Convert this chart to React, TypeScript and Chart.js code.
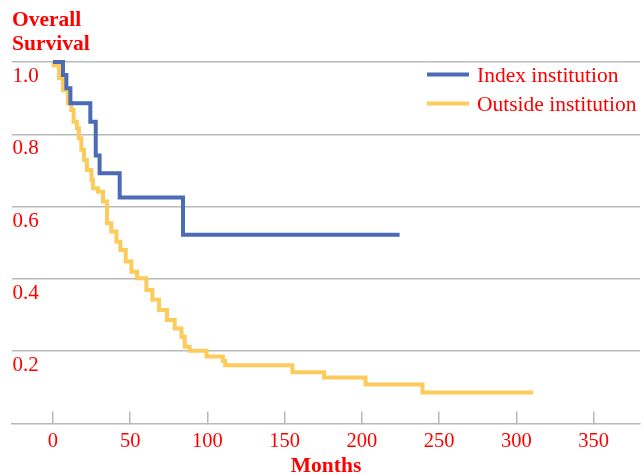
import React, { useEffect, useRef } from 'react';
import { Chart, registerables } from 'chart.js';

Chart.register(...registerables);

const SERIES_LABELS = ['Index institution', 'Outside institution'];
const SERIES_COLORS = ['#4b6bb7', '#fccb5b'];

const INDEX_MONTHS = [0, 6.5, 8.7, 11.3, 24.2, 27.7, 30.2, 43.2, 84.2, 224.4];
const INDEX_SURVIVAL = [1.0, 0.964, 0.927, 0.886, 0.835, 0.741, 0.692, 0.625, 0.522, 0.522];

const OUTSIDE_MONTHS = [
  0, 0.5, 3.9, 6.5, 9.7, 11.9, 13.4, 15.5, 16.8, 18.4, 20.1, 22.0, 24.9, 25.9, 29.1,
  32.4, 35.0, 37.8, 41.1, 43.6, 47.1, 50.8, 54.4, 60.5, 64.4, 68.7, 73.8, 78.8, 83.2,
  85.3, 88.5, 99.4, 110.0, 111.5, 155.0, 175.5, 202.3, 239.2, 310.9,
];
const OUTSIDE_SURVIVAL = [
  1.0, 0.99, 0.955, 0.922, 0.886, 0.867, 0.835, 0.817, 0.789, 0.757, 0.729, 0.701, 0.674,
  0.651, 0.641, 0.614, 0.554, 0.531, 0.503, 0.48, 0.448, 0.42, 0.402, 0.369, 0.342, 0.314,
  0.286, 0.263, 0.24, 0.212, 0.201, 0.185, 0.173, 0.161, 0.142, 0.127, 0.108, 0.086, 0.086,
];

const X_TICKS = [0, 50, 100, 150, 200, 250, 300, 350];
const X_TICK_LABELS = ['0', '50', '100', '150', '200', '250', '300', '350'];
const Y_TICKS = [0.2, 0.4, 0.6, 0.8, 1.0];
const Y_TICK_LABELS = ['0.2', '0.4', '0.6', '0.8', '1.0'];
const Y_TITLE = ['Overall', 'Survival'];
const X_TITLE = 'Months';

const RED = '#ff0000';
const GRID = '#b9b9b9';
const FAMILY = '"Liberation Serif", "Times New Roman", serif';

const legendPlugin = {
  id: 'insideLegend',
  afterDraw(chart: any) {
    const { ctx, chartArea } = chart;
    ctx.save();
    chart.data.datasets.forEach((ds: any, i: number) => {
      const y = chartArea.top + 12.5 + i * 29;
      const x0 = chartArea.right - 213;
      ctx.strokeStyle = ds.borderColor;
      ctx.lineWidth = 4;
      ctx.lineCap = 'butt';
      ctx.beginPath();
      ctx.moveTo(x0, y);
      ctx.lineTo(x0 + 42, y);
      ctx.stroke();
      ctx.fillStyle = RED;
      ctx.font = `21.5px ${FAMILY}`;
      ctx.textAlign = 'left';
      ctx.textBaseline = 'alphabetic';
      ctx.fillText(ds.label, x0 + 50, y + 8);
    });
    ctx.restore();
  },
};

export default function App() {
  const ref = useRef<HTMLCanvasElement>(null);

  useEffect(() => {
    Chart.defaults.font.family = FAMILY;
    const chart = new Chart(ref.current as HTMLCanvasElement, {
      type: 'line',
      data: {
        datasets: [
          {
            label: SERIES_LABELS[0],
            data: INDEX_MONTHS.map((t, i) => ({ x: t, y: INDEX_SURVIVAL[i] })),
            borderColor: SERIES_COLORS[0],
            backgroundColor: SERIES_COLORS[0],
            borderWidth: 4,
            stepped: 'before',
            pointRadius: 0,
            fill: false,
            clip: false as any,
            borderJoinStyle: 'miter',
          },
          {
            label: SERIES_LABELS[1],
            data: OUTSIDE_MONTHS.map((t, i) => ({ x: t, y: OUTSIDE_SURVIVAL[i] })),
            borderColor: SERIES_COLORS[1],
            backgroundColor: SERIES_COLORS[1],
            borderWidth: 4,
            stepped: 'before',
            pointRadius: 0,
            fill: false,
            clip: false as any,
            borderJoinStyle: 'miter',
          },
        ],
      },
      options: {
        responsive: false,
        animation: false,
        devicePixelRatio: 1,
        events: [],
        layout: { padding: { left: 12, right: 1, top: 0, bottom: 0 } },
        plugins: {
          legend: { display: false },
          tooltip: { enabled: false },
          title: {
            display: true,
            text: Y_TITLE,
            align: 'start',
            color: RED,
            font: { family: FAMILY, size: 21.5, weight: 'bold', lineHeight: 1.125 },
            padding: { top: 7.9, bottom: 5.7 },
          },
        },
        scales: {
          x: {
            type: 'linear',
            min: -26.5,
            max: 380,
            afterBuildTicks: (s: any) => {
              s.ticks = X_TICKS.map((v) => ({ value: v }));
            },
            afterFit: (s: any) => {
              s.height = 51.5;
            },
            grid: {
              display: true,
              drawOnChartArea: false,
              drawTicks: true,
              tickLength: -12,
              color: GRID,
              lineWidth: 1.5,
            },
            border: { display: true, color: GRID, width: 1.5 },
            ticks: {
              color: RED,
              font: { family: FAMILY, size: 20.5 },
              padding: 17.5,
              maxRotation: 0,
              autoSkip: false,
              callback: (_v: any, i: number) => X_TICK_LABELS[i],
            },
            title: {
              display: true,
              text: X_TITLE,
              color: RED,
              font: { family: FAMILY, size: 21.5, weight: 'bold', lineHeight: 0.8 },
              padding: 0,
            },
          },
          y: {
            type: 'linear',
            min: 0,
            max: 1,
            afterBuildTicks: (s: any) => {
              s.ticks = Y_TICKS.map((v) => ({ value: v }));
            },
            afterFit: (s: any) => {
              s.width = 0;
            },
            grid: { color: GRID, lineWidth: 1.5, drawTicks: false, tickLength: 0 },
            border: { display: false },
            ticks: {
              mirror: true,
              padding: 0.5,
              labelOffset: 14.5,
              color: RED,
              font: { family: FAMILY, size: 21 },
              autoSkip: false,
              callback: (_v: any, i: number) => Y_TICK_LABELS[i],
            },
          },
        },
      } as any,
      plugins: [legendPlugin],
    });
    return () => chart.destroy();
  }, []);

  return (
    <div style={{ position: 'fixed', left: 0, top: 0, width: 641, height: 475, background: '#fff' }}>
      <canvas ref={ref} width={641} height={475} style={{ display: 'block' }} />
    </div>
  );
}
